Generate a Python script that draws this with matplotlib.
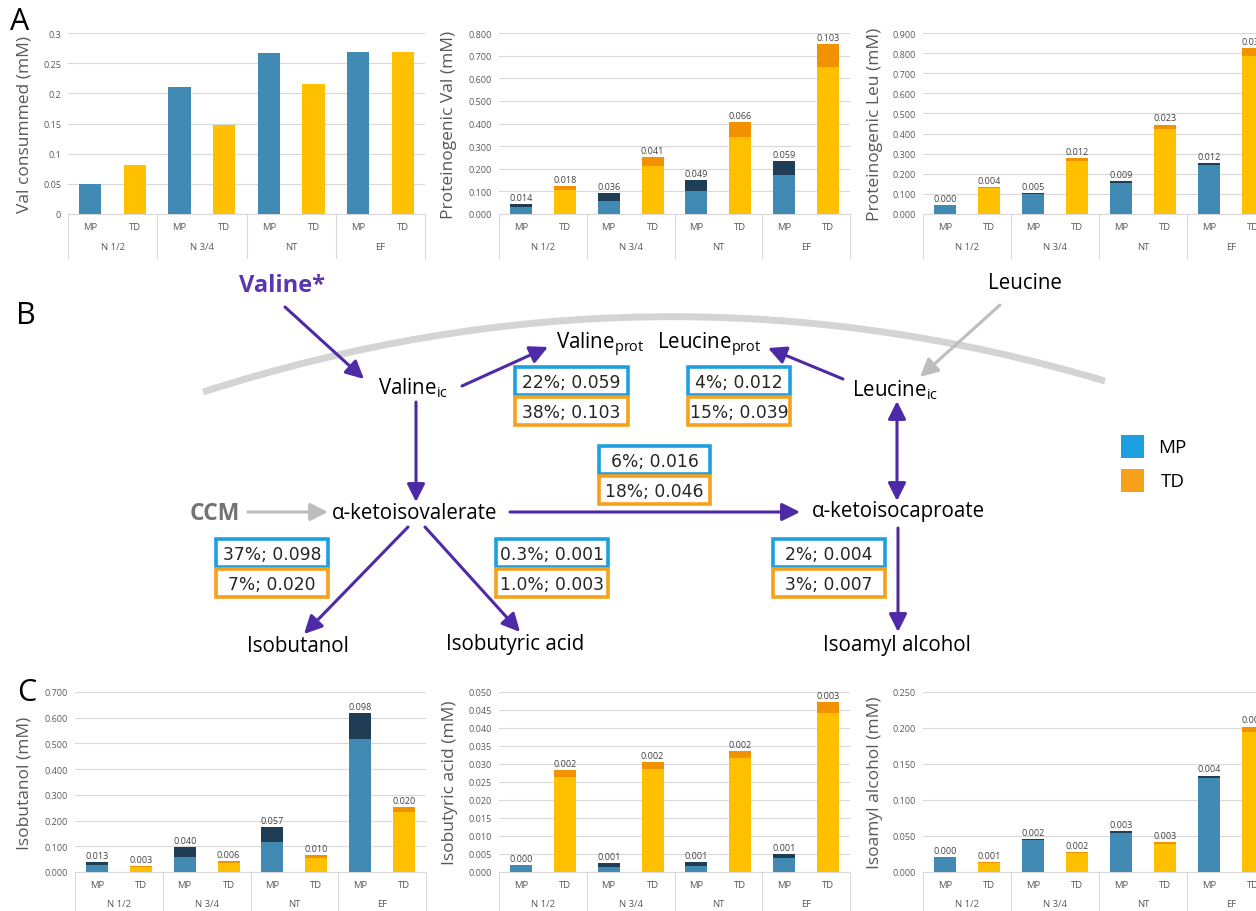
import numpy as np
import matplotlib
matplotlib.use('Agg')
import matplotlib.pyplot as plt
import matplotlib.transforms as mtransforms
from matplotlib.patches import FancyArrowPatch, Rectangle, PathPatch, ArrowStyle
from matplotlib.path import Path

plt.rcParams['font.family'] = ['Open Sans', 'DejaVu Sans']
plt.rcParams['mathtext.fontset'] = 'custom'
plt.rcParams['mathtext.rm'] = 'Open Sans'
plt.rcParams['mathtext.it'] = 'Open Sans:italic'
plt.rcParams['mathtext.bf'] = 'Open Sans:bold'

W, H = 1256, 912

# ---- data ----
groups = ['N 1/2', 'N 3/4', 'NT', 'EF']
strains = ['MP', 'TD']

val_consumed = [0.049, 0.081, 0.211, 0.147, 0.267, 0.216, 0.268, 0.268]

prot_val_total = [0.045, 0.122, 0.094, 0.252, 0.150, 0.405, 0.233, 0.752]
prot_val_top = [0.014, 0.018, 0.036, 0.041, 0.049, 0.066, 0.059, 0.103]

prot_leu_total = [0.046, 0.133, 0.103, 0.277, 0.163, 0.445, 0.254, 0.827]
prot_leu_top = [0.000, 0.004, 0.005, 0.012, 0.009, 0.023, 0.012, 0.039]

isobutanol_total = [0.039, 0.022, 0.097, 0.041, 0.174, 0.065, 0.617, 0.254]
isobutanol_top = [0.013, 0.003, 0.040, 0.006, 0.057, 0.010, 0.098, 0.020]

isobutyric_total = [0.0019, 0.0284, 0.0025, 0.0306, 0.0028, 0.0336, 0.0050, 0.0472]
isobutyric_top = [0.000, 0.002, 0.001, 0.002, 0.001, 0.002, 0.001, 0.003]

isoamyl_total = [0.021, 0.014, 0.046, 0.028, 0.057, 0.042, 0.134, 0.202]
isoamyl_top = [0.000, 0.001, 0.002, 0.002, 0.003, 0.003, 0.004, 0.007]

# flux boxes (MP text, TD text)
flux_valprot = ('22%; 0.059', '38%; 0.103')
flux_leuprot = ('4%; 0.012', '15%; 0.039')
flux_kiv_kic = ('6%; 0.016', '18%; 0.046')
flux_isobutanol = ('37%; 0.098', '7%; 0.020')
flux_isobutyric = ('0.3%; 0.001', '1.0%; 0.003')
flux_isoamyl = ('2%; 0.004', '3%; 0.007')

MP_BASE = '#408AB4'
MP_TOP = '#1F3D55'
TD_BASE = '#FFC000'
TD_TOP = '#F39200'
GRID = '#D9D9D9'
TXT = '#595959'
PURPLE = '#4F2AA6'
GREY_ARROW = '#BDBDBD'
BOX_BLUE = '#1E9FE0'
BOX_ORANGE = '#F7A11A'

fig = plt.figure(figsize=(W / 100, H / 100), dpi=100)

# ---- diagram layer (pixel coordinates) ----
ax_d = fig.add_axes([0, 0, 1, 1])
ax_d.set_xlim(0, W)
ax_d.set_ylim(H, 0)
ax_d.axis('off')

# membrane
p0, p1, p2 = (203, 393), (654, 248), (1105, 382)
memb = Path([p0, p1, p2], [Path.MOVETO, Path.CURVE3, Path.CURVE3])
ax_d.add_patch(PathPatch(memb, fc='none', ec='#D4D4D4', lw=5, capstyle='butt'))

def arrow(a, b, color=PURPLE, style='-|>'):
    st = ArrowStyle(style, head_length=0.6, head_width=0.3)
    ax_d.add_patch(FancyArrowPatch(a, b, arrowstyle=st, mutation_scale=18,
                                   color=color, lw=2.2, shrinkA=0, shrinkB=0))

arrow((285, 308), (364, 380))
arrow((462, 387), (548, 348))
arrow((416, 403), (416, 503))
arrow((843, 380), (768, 349))
arrow((1000, 306), (920, 378), color=GREY_ARROW)
arrow((897, 402), (897, 502), style='<|-|>')
arrow((510, 513), (800, 513))
arrow((248, 513), (328, 513), color=GREY_ARROW)
arrow((898, 529), (898, 633))
arrow((408, 528), (304, 635))
arrow((425, 528), (520, 633))

node_fs = 14.8
ax_d.text(282, 286, 'Valine*', fontsize=17, fontweight='bold', color='#5A36B0', ha='center', va='center')
ax_d.text(378, 388, r'Valine$_{\mathrm{ic}}$', fontsize=node_fs, ha='left', va='center')
ax_d.text(556, 345, r'Valine$_{\mathrm{prot}}$', fontsize=node_fs, ha='left', va='center')
ax_d.text(657, 345, r'Leucine$_{\mathrm{prot}}$', fontsize=node_fs, ha='left', va='center')
ax_d.text(852, 390, r'Leucine$_{\mathrm{ic}}$', fontsize=node_fs, ha='left', va='center')
ax_d.text(1025, 284, 'Leucine', fontsize=node_fs, ha='center', va='center')
ax_d.text(215, 514, 'CCM', fontsize=16.5, fontweight='bold', color='#737373', ha='center', va='center')
ax_d.text(415, 514, 'α-ketoisovalerate', fontsize=node_fs, ha='center', va='center')
ax_d.text(898, 512, 'α-ketoisocaproate', fontsize=node_fs, ha='center', va='center')
ax_d.text(298, 647, 'Isobutanol', fontsize=node_fs, ha='center', va='center')
ax_d.text(515, 645, 'Isobutyric acid', fontsize=node_fs, ha='center', va='center')
ax_d.text(897, 646, 'Isoamyl alcohol', fontsize=node_fs, ha='center', va='center')

def box_pair(x0, x1, ytop, texts, h=28):
    for k, (txt, col) in enumerate(zip(texts, [BOX_BLUE, BOX_ORANGE])):
        y = ytop + k * (h + 2)
        ax_d.add_patch(Rectangle((x0, y), x1 - x0, h, fc='white', ec=col, lw=2.6))
        ax_d.text((x0 + x1) / 2, y + h / 2 + 1, txt, fontsize=12.3, family='DejaVu Sans',
                  color='#262626', ha='center', va='center')

box_pair(515, 628, 368, flux_valprot)
box_pair(688, 790, 368, flux_leuprot)
box_pair(599, 710, 447, flux_kiv_kic)
box_pair(216, 328, 540, flux_isobutanol)
box_pair(496, 608, 540, flux_isobutyric)
box_pair(773, 885, 540, flux_isoamyl)

# legend
ax_d.add_patch(Rectangle((1121, 436), 23, 23, fc=BOX_BLUE, ec='none'))
ax_d.add_patch(Rectangle((1121, 470), 23, 23, fc=BOX_ORANGE, ec='none'))
ax_d.text(1158, 448, 'MP', fontsize=13.5, ha='left', va='center')
ax_d.text(1161, 482, 'TD', fontsize=13.5, ha='left', va='center')

# panel letters
ax_d.text(10, 22, 'A', fontsize=22, ha='left', va='center')
ax_d.text(16, 316, 'B', fontsize=22, ha='left', va='center')
ax_d.text(17, 693, 'C', fontsize=22, ha='left', va='center')


# ---- bar charts ----
def px_axes(left, top, right, bottom):
    return fig.add_axes([left / W, 1 - bottom / H, (right - left) / W, (bottom - top) / H])


def bar_chart(box, ylabel, ticks, fmt, total, top=None, label_x=-0.115):
    ax = px_axes(*box)
    ax.set_facecolor('none')
    x = np.arange(len(total))
    base_col = [MP_BASE if i % 2 == 0 else TD_BASE for i in x]
    top_col = [MP_TOP if i % 2 == 0 else TD_TOP for i in x]
    if top is None:
        ax.bar(x, total, 0.5, color=base_col, zorder=3)
    else:
        base = np.array(total) - np.array(top)
        ax.bar(x, base, 0.5, color=base_col, zorder=3)
        ax.bar(x, top, 0.5, bottom=base, color=top_col, zorder=3)
        for xi, t, v in zip(x, total, top):
            ax.annotate(f'{v:.3f}', (xi, t), xytext=(0, 1.5), textcoords='offset points',
                        ha='center', va='bottom', fontsize=6.5, color='#404040',
                        annotation_clip=False)
    ax.set_xlim(-0.5, 7.5)
    ax.set_ylim(ticks[0], ticks[-1])
    ax.set_yticks(ticks)
    ax.set_yticklabels([fmt(t) for t in ticks])
    ax.tick_params(axis='y', length=0, labelsize=6.5, labelcolor=TXT, pad=5)
    ax.set_xticks([])
    ax.grid(axis='y', color=GRID, lw=0.8, zorder=0)
    for s in ax.spines.values():
        s.set_visible(False)
    ax.set_ylabel(ylabel, fontsize=12.5, color=TXT)
    ax.yaxis.set_label_coords(label_x, 0.5)
    trans = mtransforms.blended_transform_factory(ax.transData, ax.transAxes)
    h = box[3] - box[1]
    ax.plot([-0.5, 7.5], [0, 0], transform=trans, color=GRID, lw=0.8, clip_on=False)
    for i in x:
        ax.text(i, -13 / h, strains[i % 2], transform=trans, ha='center', va='center',
                fontsize=6.8, color=TXT)
    for g, name in enumerate(groups):
        ax.text(2 * g + 0.5, -32 / h, name, transform=trans, ha='center', va='center',
                fontsize=6.8, color=TXT)
    for b in np.arange(-0.5, 8, 2):
        ax.plot([b, b], [0, -44 / h], transform=trans, color=GRID, lw=0.8, clip_on=False)
    return ax


f3 = lambda t: f'{t:.3f}'
fg = lambda t: f'{t:g}'

bar_chart((68, 34, 425, 215), 'Val consummed (mM)', np.arange(0, 0.301, 0.05), fg,
          val_consumed, label_x=-0.10)
bar_chart((499, 34, 850, 215), 'Proteinogenic Val (mM)', np.arange(0, 0.801, 0.1), f3,
          prot_val_total, prot_val_top, label_x=-0.12)
bar_chart((923, 34, 1275, 215), 'Proteinogenic Leu (mM)', np.arange(0, 0.901, 0.1), f3,
          prot_leu_total, prot_leu_top, label_x=-0.115)

bar_chart((75, 693, 426, 873), 'Isobutanol (mM)', np.arange(0, 0.701, 0.1), f3,
          isobutanol_total, isobutanol_top, label_x=-0.12)
bar_chart((499, 693, 850, 873), 'Isobutyric acid (mM)', np.arange(0, 0.0501, 0.005), f3,
          isobutyric_total, isobutyric_top, label_x=-0.117)
bar_chart((923, 693, 1275, 873), 'Isoamyl alcohol (mM)', np.arange(0, 0.251, 0.05), f3,
          isoamyl_total, isoamyl_top, label_x=-0.114)

fig.savefig('out.png', dpi=100)
